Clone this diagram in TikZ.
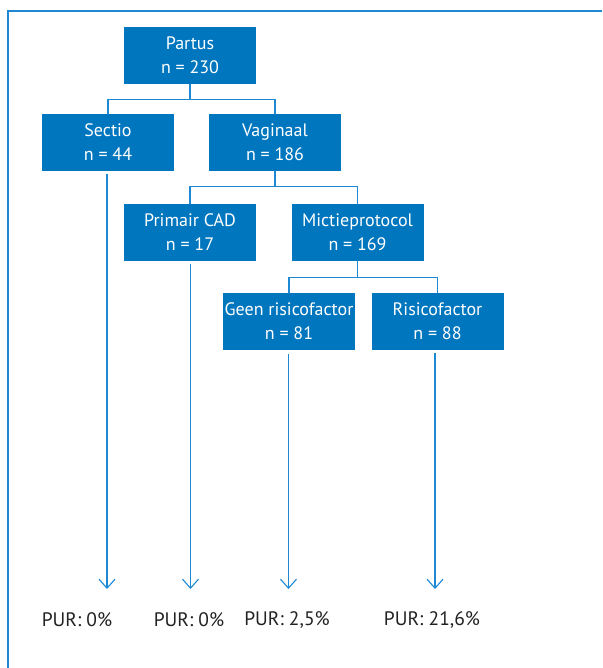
\documentclass[tikz,border=0pt]{standalone}
\usepackage{fontspec}
\setmainfont{PT Sans}
\usetikzlibrary{arrows.meta}
\definecolor{boxblue}{RGB}{0,118,190}
\definecolor{lineblue}{RGB}{30,136,210}
\definecolor{txtgray}{RGB}{34,34,34}
\begin{document}
\begin{tikzpicture}[x=1pt,y=-1pt,
  box/.style={fill=boxblue,draw=none,text=white,minimum width=132pt,minimum height=57pt,
    align=center,inner sep=0pt,font=\fontsize{18}{24}\selectfont},
  conn/.style={draw=lineblue,line width=1.1pt},
  arr/.style={draw=lineblue,line width=1.1pt,-{Straight Barb[length=9pt,width=16pt,line width=1.1pt]}},
  pur/.style={text=txtgray,font=\fontsize{19.5}{22}\selectfont,inner sep=0pt}]
\useasboundingbox (0,0) rectangle (602,668);
\fill[white] (0,0) rectangle (602,668);
\draw[lineblue,line width=1.3pt] (8,668) -- (8,11) -- (602,11);

\node[box] (partus) at (190,55.5) {Partus\\n = 230};
\node[box] (sectio) at (108,142.5) {Sectio\\n = 44};
\node[box] (vag) at (275,142.5) {Vaginaal\\n = 186};
\node[box] (cad) at (190,232.5) {Primair CAD\\n = 17};
\node[box] (mict) at (357.5,232.5) {Mictieprotocol\\n = 169};
\node[box] (geen) at (289,321.5) {Geen risicofactor\\n = 81};
\node[box] (risico) at (437.5,321.5) {Risicofactor\\n = 88};

\draw[conn] (partus.south) -- ++(0,15) coordinate (j1);
\draw[conn] (sectio.north) |- (j1) -| (vag.north);
\draw[conn] (vag.south) -- ++(0,15) coordinate (j2);
\draw[conn] (cad.north) |- (j2) -| (mict.north);
\draw[conn] (mict.south) -- ++(0,16) coordinate (j3);
\draw[conn] (geen.north) |- (j3) -| (risico.north);

\coordinate (e1) at (107,589);
\coordinate (e2) at (190.5,589);
\coordinate (e3) at (288.5,589);
\coordinate (e4) at (435,589);
\draw[arr] ([yshift=-3pt]sectio.south -| e1) -- (e1);
\draw[arr] ([yshift=-3pt]cad.south -| e2) -- (e2);
\draw[arr] ([yshift=-4pt]geen.south -| e3) -- (e3);
\draw[arr] ([yshift=-3pt]risico.south -| e4) -- (e4);

\node[pur] (p1) at (77,620) {PUR: 0\%};
\node[pur] (p2) at (189,620) {PUR: 0\%};
\node[pur] (p3) at (287,620) {PUR: 2,5\%};
\node[pur] (p4) at (432,620) {PUR: 21,6\%};
\end{tikzpicture}
\end{document}
